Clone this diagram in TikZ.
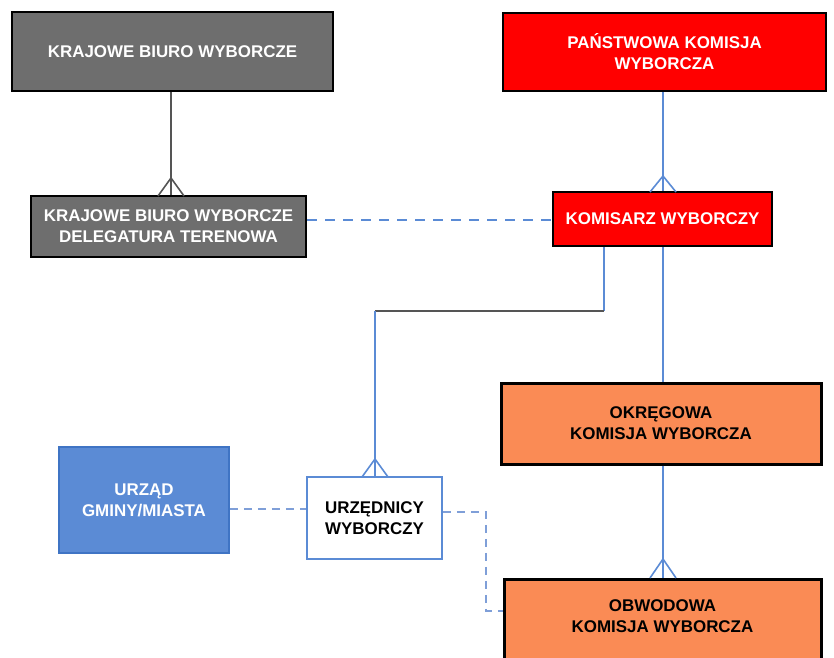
\documentclass[tikz,border=0pt]{standalone}
\usepackage{fontspec}
\setmainfont{Liberation Sans}
\begin{document}
\begin{tikzpicture}[x=1bp,y=-1bp,
  box/.style={draw=black,line width=2.2bp,inner sep=0pt,align=center,font=\fontsize{17}{21}\selectfont\bfseries},
  graybox/.style={box,fill=gray1,text=white},
  redbox/.style={box,fill=red,text=white},
  orangebox/.style={box,fill=orange1,text=black,line width=3bp},
  bluebox/.style={box,draw=blue2,line width=1.5bp,fill=blue1,text=white},
  whitebox/.style={box,draw=blue1,line width=1.8bp,fill=white,text=black},
  link/.style={draw=blue1,line width=1.6bp},
  graylink/.style={draw=gray2,line width=1.6bp},
  dlink/.style={draw=blue1,line width=2bp,dash pattern=on 10bp off 8bp},
  dlink2/.style={draw=blue3,line width=1.5bp,dash pattern=on 8bp off 6bp}]
\definecolor{gray1}{HTML}{6E6E6E}
\definecolor{gray2}{HTML}{555555}
\definecolor{orange1}{HTML}{FA8B55}
\definecolor{blue1}{HTML}{5B8BD5}
\definecolor{blue2}{HTML}{3F74C4}
\definecolor{blue3}{HTML}{7F9FD8}
\useasboundingbox (0,0) rectangle (834,658);
\clip (0,0) rectangle (834,658);
% boxes
\node[graybox,minimum width=321bp,minimum height=79bp] (kbw) at (172.5,51.5) {KRAJOWE BIURO WYBORCZE};
\node[graybox,minimum width=275bp,minimum height=61bp] (kbwd) at (168.5,226.5) {KRAJOWE BIURO WYBORCZE\\DELEGATURA TERENOWA};
\node[redbox,minimum width=323bp,minimum height=78bp] (pkw) at (664.5,52) {PAŃSTWOWA KOMISJA\\WYBORCZA};
\node[redbox,minimum width=219bp,minimum height=54bp] (kw) at (662.5,219) {KOMISARZ WYBORCZY};
\node[orangebox,minimum width=320bp,minimum height=81bp] (okw) at (661,423.5) {OKRĘGOWA\\KOMISJA WYBORCZA};
\node[orangebox,minimum width=317bp,minimum height=100bp,anchor=north] (obw) at (662.5,578) {};
\node[font=\fontsize{17}{21}\selectfont\bfseries,align=center] (obwt) at (662.5,616) {OBWODOWA\\KOMISJA WYBORCZA};
\node[bluebox,minimum width=170bp,minimum height=106bp] (ugm) at (144,500) {URZĄD\\GMINY/MIASTA};
\node[whitebox,minimum width=135bp,minimum height=82bp] (uw) at (374.5,518) {URZĘDNICY\\WYBORCZY};
% coordinates
\coordinate (c1) at (604,311);
\coordinate (c2) at (375,311);
\coordinate (d1) at (486,512);
\coordinate (d2) at (486,611);
% solid connectors
\draw[graylink] (kbw.south -| 171,0) -- (kbwd.north -| 171,0);
\draw[graylink] (171,178) -- (158,196) (171,178) -- (184,196);
\draw[link] (pkw.south -| 663,0) -- (kw.north -| 663,0);
\draw[link] (663,176) -- (650,192) (663,176) -- (676,192);
\draw[link] (kw.south -| c1) -- (c1);
\draw[graylink] (c1) -- (c2);
\draw[link] (c2) -- (uw.north -| c2);
\draw[link] (375,459) -- (362,477) (375,459) -- (388,477);
\draw[link] (kw.south -| 663,0) -- (okw.north -| 663,0);
\draw[link] (okw.south -| 663,0) -- (obw.north -| 663,0);
\draw[link] (663,559) -- (650,578) (663,559) -- (676,578);
% dashed connectors
\draw[dlink] (kbwd.east |- 0,220) -- (kw.west |- 0,220);
\draw[dlink2] (ugm.east |- 0,509) -- (uw.west |- 0,509);
\draw[dlink2] (uw.east |- d1) -- (d1) -- (d2) -- (obw.west |- d2);
\end{tikzpicture}
\end{document}
